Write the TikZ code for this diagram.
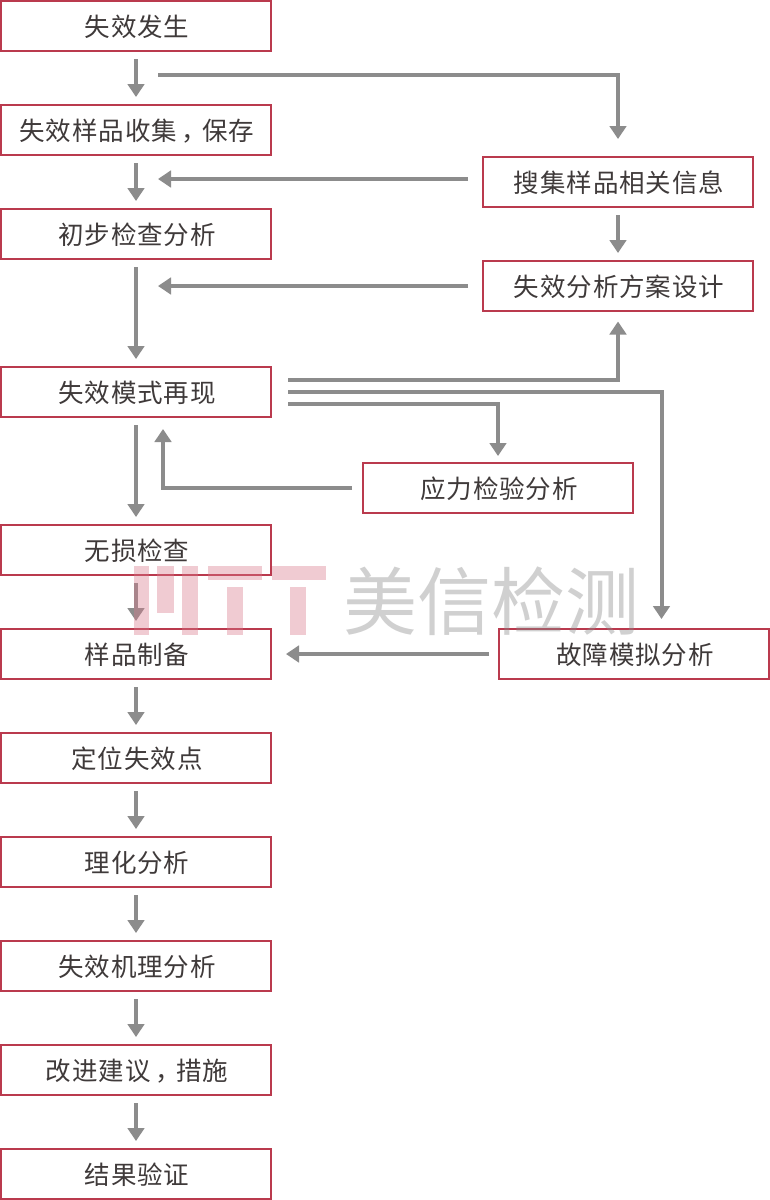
\documentclass[tikz,border=0pt]{standalone}
\usepackage{fontspec}
\setmainfont[LetterSpace=3.5]{Noto Sans CJK SC}
\newfontfamily\wmfont{Noto Sans CJK SC}
\usetikzlibrary{arrows.meta,calc}
\definecolor{boxred}{HTML}{BA3A4E}
\definecolor{linegrey}{HTML}{8C8C8C}
\definecolor{inkgrey}{HTML}{3F3A3A}
\definecolor{wmpink}{HTML}{D9788A}
\definecolor{wmgrey}{HTML}{8A8A8A}
\newcommand{\cmm}{\makebox[1em][c]{\hspace*{.36em}，}}
\tikzset{
  x=1pt,y=-1pt,
  stepbox/.style={draw=boxred,line width=2.2pt,fill=white,minimum width=270pt,minimum height=50pt,inner sep=0pt,outer sep=0pt,text=inkgrey,text height=25pt,text depth=4pt,font=\fontsize{25.5}{30}\selectfont,execute at begin node={\hspace*{2pt}}},
  flow/.style={draw=linegrey,line width=4pt,-{Triangle[length=13pt,width=16.5pt]}},
  down/.style={flow,shorten >=8pt,shorten <=8pt},
  wmshape/.style={fill=wmpink,opacity=.38,draw=none},
}
\begin{document}
\begin{tikzpicture}
\useasboundingbox (0,0) rectangle (770,1200);
\fill[white] (0,0) rectangle (770,1200);
% left column
\node[stepbox] (a1) at (136,26) {失效发生};
\node[stepbox] (a2) at (136,130) {失效样品收集\cmm 保存};
\node[stepbox] (a3) at (136,234) {初步检查分析};
\node[stepbox] (a4) at (136,392) {失效模式再现};
\node[stepbox] (a5) at (136,550) {无损检查};
\node[stepbox] (a6) at (136,654) {样品制备};
\node[stepbox] (a7) at (136,758) {定位失效点};
\node[stepbox] (a8) at (136,862) {理化分析};
\node[stepbox] (a9) at (136,966) {失效机理分析};
\node[stepbox] (a10) at (136,1070) {改进建议\cmm 措施};
\node[stepbox] (a11) at (136,1174) {结果验证};
% right boxes
\node[stepbox] (b1) at (618,182) {搜集样品相关信息};
\node[stepbox] (b2) at (618,286) {失效分析方案设计};
\node[stepbox] (c1) at (498,488) {应力检验分析};
\node[stepbox] (c2) at (634,654) {故障模拟分析};
% free ends
\coordinate (s1) at (158,75);
\coordinate (t1) at (158,179);
\coordinate (t2) at (158,286);
\coordinate (s2) at (288,380);
\coordinate (s3) at (288,392);
\coordinate (s4) at (288,404);
\coordinate (t3) at (163,429);
\coordinate (t4) at (286,654);
\coordinate (t5) at (661.5,619);
% straight down
\foreach \p/\q in {a1/a2,a2/a3,a3/a4,a4/a5,a5/a6,a6/a7,a7/a8,a8/a9,a9/a10,a10/a11,b1/b2}
  \draw[down] (\p.south) -- (\q.north);
% side connectors
\draw[flow,shorten >=18pt] (s1) -| (b1.north);
\draw[flow,shorten <=15pt] (b1.west |- t1) -- (t1);
\draw[flow,shorten <=15pt] (b2.west) -- (t2);
\draw[flow,shorten >=10.5pt] (s2) -| (b2.south);
\draw[flow] (s3) -| (t5);
\draw[flow,shorten >=7pt] (s4) -| (c1.north);
\draw[flow,shorten <=11pt] (c1.west) -| (t3);
\draw[flow,shorten <=10pt] (c2.west) -- (t4);
% watermark
\fill[wmshape] (134,566) rectangle (149,635);
\fill[wmshape] (157,566) rectangle (174,613);
\fill[wmshape] (182,566) rectangle (197.5,635);
\fill[wmshape] (208,566) rectangle (262,580);
\fill[wmshape] (227,587) rectangle (243,635);
\fill[wmshape] (271.5,566) rectangle (326,580);
\fill[wmshape] (290,587) rectangle (306,635);
\node[text=wmgrey,opacity=.4,inner sep=0pt,font=\wmfont\fontsize{74}{80}\selectfont] (wm) at (491,601) {美信检测};
\end{tikzpicture}
\end{document}
